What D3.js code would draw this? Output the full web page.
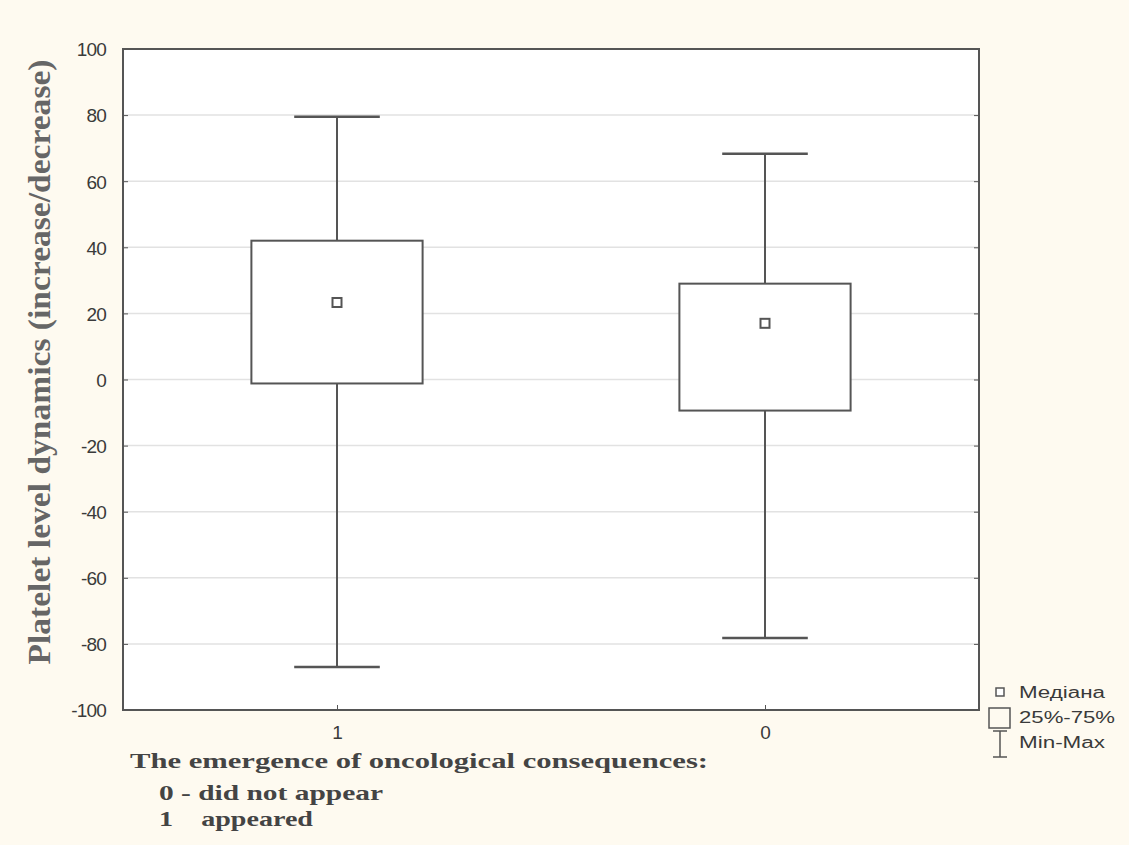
<!DOCTYPE html>
<html>
<head>
<meta charset="utf-8">
<script src="https://cdn.jsdelivr.net/npm/d3@7"></script>
<style>
  body { margin: 0; background: #fefaf0; }
  svg { display: block; }
</style>
</head>
<body>
<div id="chart"></div>
<script>
// categories and box statistics
const categories = ['1', '0'];
const medians = [23.3, 17.0];
const q1 = [-1.2, -9.4];
const q3 = [42.0, 29.0];
const mins = [-87.0, -78.2];
const maxs = [79.5, 68.3];
const yTicks = [100, 80, 60, 40, 20, 0, -20, -40, -60, -80, -100];

const width = 1129, height = 845;
const margin = { top: 49, right: 150, bottom: 135, left: 123 };
const innerW = width - margin.left - margin.right;
const innerH = height - margin.top - margin.bottom;

const svg = d3.select('#chart').append('svg')
  .attr('width', width)
  .attr('height', height);

svg.append('rect')
  .attr('width', width).attr('height', height)
  .attr('fill', '#fefaf0');

const g = svg.append('g')
  .attr('transform', `translate(${margin.left},${margin.top})`);

const x = d3.scalePoint().domain(categories).range([0, innerW]).padding(0.5);
const y = d3.scaleLinear().domain([-100, 100]).range([innerH, 0]);

// plot background
g.append('rect')
  .attr('width', innerW).attr('height', innerH)
  .attr('fill', '#ffffff');

// grid
g.selectAll('.grid')
  .data(yTicks.filter(d => d !== 100 && d !== -100))
  .enter().append('line')
  .attr('class', 'grid')
  .attr('x1', 0).attr('x2', innerW)
  .attr('y1', d => y(d)).attr('y2', d => y(d))
  .attr('stroke', '#e2e2e2')
  .attr('stroke-width', 1.5);

// box plot
const stats = categories.map((c, i) => ({
  cat: c, med: medians[i], q1: q1[i], q3: q3[i], min: mins[i], max: maxs[i]
}));
const boxW = innerW * 0.2;
const capW = innerW * 0.1;
const ink = '#555555';

const box = g.selectAll('.box')
  .data(stats)
  .enter().append('g')
  .attr('class', 'box')
  .attr('transform', d => `translate(${x(d.cat)},0)`);

box.append('line')
  .attr('x1', 0).attr('x2', 0)
  .attr('y1', d => y(d.max)).attr('y2', d => y(d.q3))
  .attr('stroke', ink).attr('stroke-width', 2);
box.append('line')
  .attr('x1', 0).attr('x2', 0)
  .attr('y1', d => y(d.q1)).attr('y2', d => y(d.min))
  .attr('stroke', ink).attr('stroke-width', 2);
box.append('line')
  .attr('x1', -capW / 2).attr('x2', capW / 2)
  .attr('y1', d => y(d.max)).attr('y2', d => y(d.max))
  .attr('stroke', ink).attr('stroke-width', 2.5);
box.append('line')
  .attr('x1', -capW / 2).attr('x2', capW / 2)
  .attr('y1', d => y(d.min)).attr('y2', d => y(d.min))
  .attr('stroke', ink).attr('stroke-width', 2.5);
box.append('rect')
  .attr('x', -boxW / 2).attr('width', boxW)
  .attr('y', d => y(d.q3))
  .attr('height', d => y(d.q1) - y(d.q3))
  .attr('fill', '#ffffff')
  .attr('stroke', ink).attr('stroke-width', 2);
box.append('rect')
  .attr('x', -4.5).attr('width', 9)
  .attr('y', d => y(d.med) - 4.5).attr('height', 9)
  .attr('fill', '#ffffff')
  .attr('stroke', ink).attr('stroke-width', 2);

// frame
g.append('rect')
  .attr('width', innerW).attr('height', innerH)
  .attr('fill', 'none')
  .attr('stroke', '#555')
  .attr('stroke-width', 2);

const sans = '"Liberation Sans", Arial, sans-serif';
const serif = '"Liberation Serif", "Times New Roman", serif';

// axes
const yAxis = g.append('g')
  .call(d3.axisLeft(y).tickValues(yTicks).tickSize(-5).tickPadding(17)
    .tickFormat(d => String(d)));
yAxis.select('.domain').remove();
yAxis.selectAll('line').attr('stroke', '#555');
yAxis.selectAll('text')
  .attr('fill', '#3a3a3a')
  .attr('dy', '0.36em')
  .style('font-family', sans)
  .style('font-size', '19px')
  .style('letter-spacing', '-0.8px');

const yAxisR = g.append('g')
  .attr('transform', `translate(${innerW},0)`)
  .call(d3.axisRight(y).tickValues(yTicks).tickSize(-5).tickFormat(''));
yAxisR.select('.domain').remove();
yAxisR.selectAll('line').attr('stroke', '#555');

const xAxis = g.append('g')
  .attr('transform', `translate(0,${innerH})`)
  .call(d3.axisBottom(x).tickSize(-5).tickPadding(16));
xAxis.select('.domain').remove();
xAxis.selectAll('line').attr('stroke', '#555');
xAxis.selectAll('text')
  .attr('fill', '#3a3a3a')
  .style('font-family', sans)
  .style('font-size', '19px');

// y title
svg.append('text')
  .attr('transform', 'translate(50,362) rotate(-90)')
  .attr('text-anchor', 'middle')
  .attr('fill', '#666')
  .attr('textLength', 605)
  .attr('lengthAdjust', 'spacingAndGlyphs')
  .style('font-family', serif)
  .style('font-size', '31px')
  .style('font-weight', 'bold')
  .text('Platelet level dynamics (increase/decrease)');

// x title and notes
const notes = [
  { text: 'The emergence of oncological consequences:', x: 130, y: 768, len: 578 },
  { text: '0 - did not appear', x: 159, y: 800, len: 224 },
  { text: '1    appeared', x: 159, y: 826, len: 154 }
];
svg.selectAll('.note')
  .data(notes)
  .enter().append('text')
  .attr('class', 'note')
  .attr('x', d => d.x).attr('y', d => d.y)
  .attr('textLength', d => d.len)
  .attr('lengthAdjust', 'spacingAndGlyphs')
  .attr('xml:space', 'preserve')
  .attr('fill', '#444')
  .style('white-space', 'pre')
  .style('font-family', serif)
  .style('font-size', '22px')
  .style('font-weight', 'bold')
  .text(d => d.text);

// legend
const lg = svg.append('g').attr('transform', 'translate(988,680)');
lg.append('rect')
  .attr('x', 8).attr('y', 8).attr('width', 8).attr('height', 8)
  .attr('fill', '#fff').attr('stroke', ink).attr('stroke-width', 1.5);
lg.append('rect')
  .attr('x', 1).attr('y', 28).attr('width', 21).attr('height', 20)
  .attr('fill', 'none').attr('stroke', ink).attr('stroke-width', 1.5);
lg.append('line').attr('x1', 12).attr('x2', 12).attr('y1', 51).attr('y2', 77)
  .attr('stroke', ink).attr('stroke-width', 1.5);
lg.append('line').attr('x1', 5).attr('x2', 19).attr('y1', 51).attr('y2', 51)
  .attr('stroke', ink).attr('stroke-width', 1.5);
lg.append('line').attr('x1', 5).attr('x2', 19).attr('y1', 77).attr('y2', 77)
  .attr('stroke', ink).attr('stroke-width', 1.5);
const legendLabels = ['Медіана', '25%-75%', 'Min-Max'];
const legendLens = [86, 96, 86];
lg.selectAll('.lt')
  .data(legendLabels)
  .enter().append('text')
  .attr('class', 'lt')
  .attr('x', 31)
  .attr('y', (d, i) => 18 + i * 25)
  .attr('textLength', (d, i) => legendLens[i])
  .attr('lengthAdjust', 'spacingAndGlyphs')
  .attr('fill', '#3a3a3a')
  .style('font-family', sans)
  .style('font-size', '16px')
  .text(d => d);
</script>
</body>
</html>
